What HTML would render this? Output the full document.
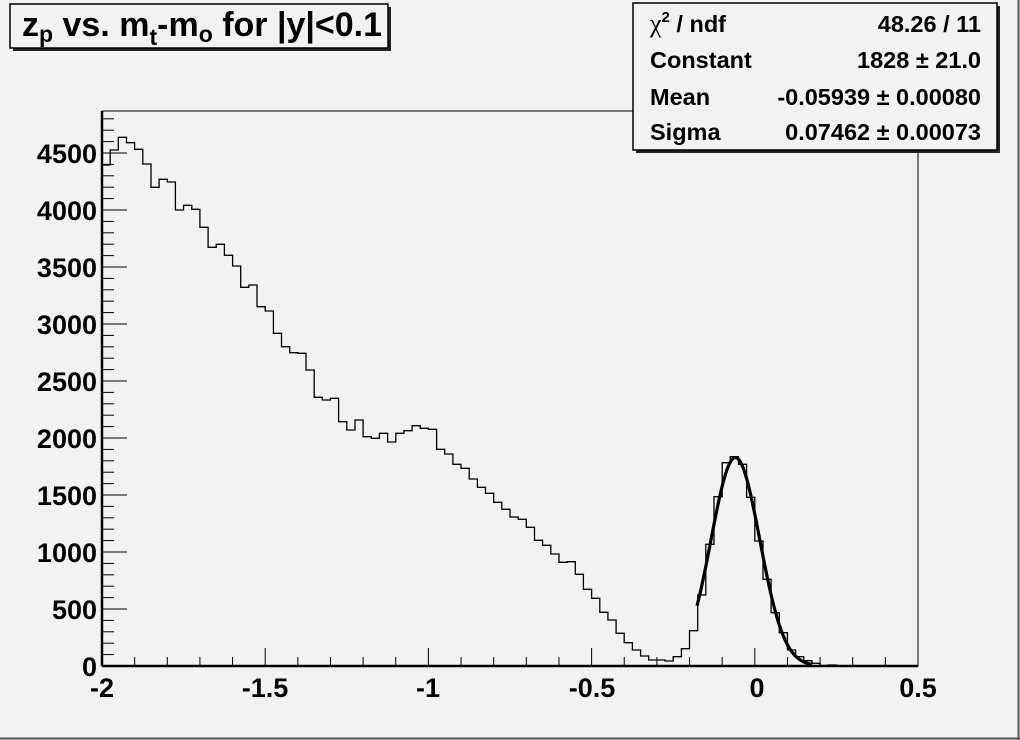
<!DOCTYPE html>
<html><head><meta charset="utf-8"><style>
html,body{margin:0;padding:0;background:#f2f2f2;}
svg{display:block;font-family:"Liberation Sans",Arial,sans-serif;font-weight:bold;}
</style></head><body>
<svg id="s" width="1020" height="740" viewBox="0 0 1020 740" xmlns="http://www.w3.org/2000/svg">
<rect x="0" y="0" width="1020" height="740" fill="#f2f2f2"/>
<line x1="1018.5" y1="0" x2="1018.5" y2="740" stroke="#555" stroke-width="2"/>
<line x1="0" y1="738.5" x2="1020" y2="738.5" stroke="#555" stroke-width="2"/>
<rect x="102" y="111" width="816" height="555" fill="#f2f2f2" stroke="#000" stroke-width="1"/>
<g id="ticks" stroke="#000" stroke-width="1"></g>
<path id="hist" fill="none" stroke="#000" stroke-width="1.3"/>
<polyline id="fit" fill="none" stroke="#000" stroke-width="3.2"/>
<line x1="102" y1="666" x2="918" y2="666" stroke="#000" stroke-width="2.5"/>
<line x1="102" y1="111" x2="102" y2="666" stroke="#000" stroke-width="2.5"/>
<g font-size="27" text-anchor="end">
<text x="97" y="676">0</text>
<text x="97" y="619">500</text>
<text x="97" y="562">1000</text>
<text x="97" y="505">1500</text>
<text x="97" y="448">2000</text>
<text x="97" y="391">2500</text>
<text x="97" y="334">3000</text>
<text x="97" y="277">3500</text>
<text x="97" y="220">4000</text>
<text x="97" y="163">4500</text>
</g>
<g font-size="27" text-anchor="middle">
<text x="102" y="697">-2</text>
<text x="265" y="697">-1.5</text>
<text x="428" y="697">-1</text>
<text x="592" y="697">-0.5</text>
<text x="757" y="697">0</text>
<text x="918" y="697">0.5</text>
</g>
<rect x="13" y="7" width="378" height="44" fill="#222"/>
<rect x="10" y="4" width="378" height="44" fill="#f2f2f2" stroke="#000" stroke-width="1.5"/>
<text x="22" y="36" font-size="34">z<tspan font-size="23" dy="6">p</tspan><tspan dy="-6"> vs. m</tspan><tspan font-size="23" dy="9">t</tspan><tspan dy="-9">-m</tspan><tspan font-size="23" dy="6">o</tspan><tspan dy="-6"> for |y|&lt;0.1</tspan></text>
<rect x="636" y="6" width="364" height="147" fill="#222"/>
<rect x="633" y="3" width="364" height="147" fill="#f2f2f2" stroke="#000" stroke-width="1.5"/>
<g font-size="23.5">
<text x="650" y="32"><tspan font-family="Liberation Serif,serif" font-weight="normal" font-size="26">χ</tspan><tspan font-size="15" dy="-10">2</tspan><tspan dy="10"> / ndf</tspan></text>
<text x="650" y="68">Constant</text>
<text x="650" y="105">Mean</text>
<text x="650" y="140">Sigma</text>
<g text-anchor="end">
<text x="981" y="32">48.26 / 11</text>
<text x="981" y="68">1828 ± 21.0</text>
<text x="981" y="105">-0.05939 ± 0.00080</text>
<text x="981" y="140">0.07462 ± 0.00073</text>
</g>
</g>
</svg>
<script>
var ys=[165,150,137.3,142.7,149.3,164,187.3,179.3,182,210,205.3,209.3,227.3,247.3,244.3,255.3,266,287.3,285,306.7,311,333.3,346.7,352.7,353.3,370,397.3,400,398.3,421.7,430,420,436.7,438.3,433.3,442,433.3,430.7,425.7,428.3,429.3,449.3,454,464.3,468.3,479,487.3,493.3,502.3,509.3,517,519.3,527.3,540.3,545.3,554,562.3,561.7,574.3,589.3,598.3,612.3,620,633.3,642.7,650,656,660,660,661,656.7,648.7,630.7,595,544.3,496.7,462.7,456.7,464.3,497.3,541,579.3,612.7,632.7,650,656.7,660.7,663.3,665.5,665];
var w=8.16,d="M102,666";
for(var i=0;i<100;i++){var y=i<ys.length?ys[i]:666;var x0=102+i*w,x1=x0+w;d+=" L"+x0.toFixed(1)+","+y+" L"+x1.toFixed(1)+","+y;}
document.getElementById("hist").setAttribute("d",d);
var p=[];for(var x=697;x<=812;x+=1){var v=(x-735.4)/24.36;p.push(x+","+(666-208.4*Math.exp(-0.5*v*v)).toFixed(1));}
document.getElementById("fit").setAttribute("points",p.join(" "));
var t="";
for(var k=0;k<=25;k++){var x=102+k*32.64;var L=(k%5==0)?18:9;t+='<line x1="'+x+'" y1="666" x2="'+x+'" y2="'+(666-L)+'"/>';}
for(var k=0;k<=48;k++){var y=666-k*11.4;var L=(k%5==0)?25:12;t+='<line x1="102" y1="'+y+'" x2="'+(102+L)+'" y2="'+y+'"/>';}
document.getElementById("ticks").innerHTML=t;
</script>
</body></html>
